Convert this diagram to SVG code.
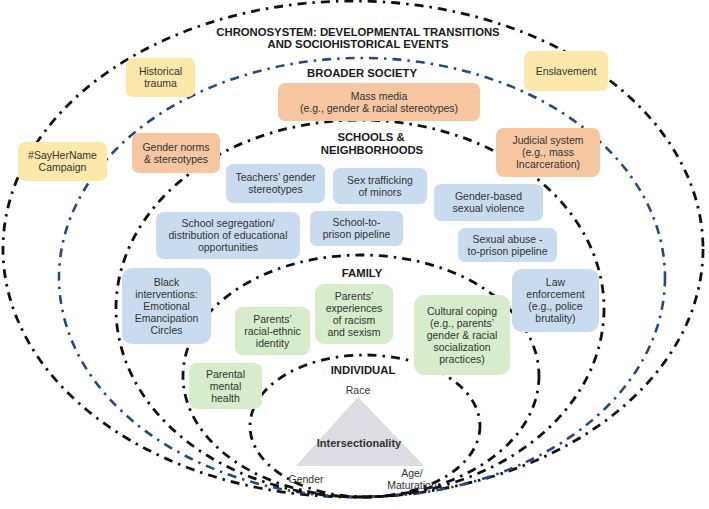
<svg xmlns="http://www.w3.org/2000/svg" width="709" height="509" viewBox="0 0 709 509">
<style>
.ring{fill:none;stroke:#111;stroke-width:2.8;stroke-dasharray:9 6 2.5 6}
.ringb{fill:none;stroke:#234a86;stroke-width:2.6;stroke-dasharray:9 6 2.5 6}
.y rect{fill:#fce8a8}
.o rect{fill:#f6c6a1}
.b rect{fill:#c9dcef}
.g rect{fill:#d6ecca}
text{font-family:"Liberation Sans",Arial,sans-serif;fill:#333;text-anchor:middle;font-size:10.5px}
.h{font-weight:bold;font-size:11.3px;fill:#1a1a1a}
.bold{font-weight:bold;font-size:11px;fill:#333}
</style>
<rect width="709" height="509" fill="#fff"/>
<g id="connectors">
<ellipse id="chronosystem-ring" class="ring" cx="353" cy="249" rx="350" ry="248"/>
<ellipse id="society-ring" class="ringb" cx="362" cy="277.5" rx="303" ry="219.5"/>
<ellipse id="schools-ring" class="ring" cx="360" cy="308.5" rx="244" ry="188.5"/>
<ellipse id="family-ring" class="ring" cx="361" cy="376" rx="178" ry="121"/>
<ellipse id="individual-ring" class="ring" cx="365" cy="426" rx="115" ry="71"/>
</g>
<g id="headings">
<text class="h" x="358" y="36">CHRONOSYSTEM: DEVELOPMENTAL TRANSITIONS</text>
<text class="h" x="358" y="48">AND SOCIOHISTORICAL EVENTS</text>
<text class="h" x="362" y="77">BROADER SOCIETY</text>
<text class="h" x="371" y="141">SCHOOLS &amp;</text>
<text class="h" x="372" y="154">NEIGHBORHOODS</text>
<text class="h" x="362" y="277">FAMILY</text>
<text class="h" x="363" y="374">INDIVIDUAL</text>
</g>
<g id="historical-trauma" class="y"><rect x="126" y="58" width="69" height="39" rx="7"/><text x="160.5" y="75.2">Historical</text><text x="160.5" y="87.2">trauma</text></g>
<g id="sayhername" class="y"><rect x="18" y="142" width="89" height="39" rx="7"/><text x="62.5" y="159.2">#SayHerName</text><text x="62.5" y="171.2">Campaign</text></g>
<g id="enslavement" class="y"><rect x="524" y="51" width="84" height="40" rx="7"/><text x="566" y="74.7">Enslavement</text></g>
<g id="mass-media" class="o"><rect x="278" y="83" width="202" height="38" rx="7"/><text x="379" y="99.7">Mass media</text><text x="379" y="111.7">(e.g., gender &amp; racial stereotypes)</text></g>
<g id="gender-norms" class="o"><rect x="132" y="133" width="88" height="40" rx="7"/><text x="176" y="150.7">Gender norms</text><text x="176" y="162.7">&amp; stereotypes</text></g>
<g id="judicial-system" class="o"><rect x="496" y="128" width="104" height="49" rx="8"/><text x="548" y="144.2">Judicial system</text><text x="548" y="156.2">(e.g., mass</text><text x="548" y="168.2">Incarceration)</text></g>
<g id="teachers" class="b"><rect x="226" y="164" width="99" height="39" rx="7"/><text x="275.5" y="181.2">Teachers’ gender</text><text x="275.5" y="193.2">stereotypes</text></g>
<g id="sex-trafficking" class="b"><rect x="333" y="168" width="94" height="36" rx="7"/><text x="380" y="183.7">Sex trafficking</text><text x="380" y="195.7">of minors</text></g>
<g id="gender-based-violence" class="b"><rect x="434" y="184" width="109" height="37" rx="7"/><text x="488.5" y="200.2">Gender-based</text><text x="488.5" y="212.2">sexual violence</text></g>
<g id="school-segregation" class="b"><rect x="156" y="212" width="144" height="47" rx="8"/><text x="228" y="227.2">School segregation/</text><text x="228" y="239.2">distribution of educational</text><text x="228" y="251.2">opportunities</text></g>
<g id="school-to-prison" class="b"><rect x="310" y="211" width="93" height="35" rx="7"/><text x="356.5" y="226.2">School-to-</text><text x="356.5" y="238.2">prison pipeline</text></g>
<g id="sexual-abuse" class="b"><rect x="458" y="228" width="99" height="34" rx="7"/><text x="507.5" y="242.7">Sexual abuse -</text><text x="507.5" y="254.7">to-prison pipeline</text></g>
<g id="black-interventions" class="b"><rect x="122" y="268" width="89" height="76" rx="10"/><text x="166.5" y="285.7">Black</text><text x="166.5" y="297.7">interventions:</text><text x="166.5" y="309.7">Emotional</text><text x="166.5" y="321.7">Emancipation</text><text x="166.5" y="333.7">Circles</text></g>
<g id="law-enforcement" class="b"><rect x="512" y="269" width="87" height="63" rx="10"/><text x="555.5" y="286.2">Law</text><text x="555.5" y="298.2">enforcement</text><text x="555.5" y="310.2">(e.g., police</text><text x="555.5" y="322.2">brutality)</text></g>
<g id="parents-identity" class="g"><rect x="235" y="307" width="75" height="48" rx="8"/><text x="272.5" y="322.7">Parents’</text><text x="272.5" y="334.7">racial-ethnic</text><text x="272.5" y="346.7">identity</text></g>
<g id="parents-experiences" class="g"><rect x="315" y="284" width="78" height="60" rx="9"/><text x="354" y="299.7">Parents’</text><text x="354" y="311.7">experiences</text><text x="354" y="323.7">of racism</text><text x="354" y="335.7">and sexism</text></g>
<g id="cultural-coping" class="g"><rect x="414" y="295" width="96" height="80" rx="10"/><text x="462" y="314.7">Cultural coping</text><text x="462" y="326.7">(e.g., parents’</text><text x="462" y="338.7">gender &amp; racial</text><text x="462" y="350.7">socialization</text><text x="462" y="362.7">practices)</text></g>
<g id="parental-mental-health" class="g"><rect x="189" y="363" width="73" height="46" rx="8"/><text x="225.5" y="377.7">Parental</text><text x="225.5" y="389.7">mental</text><text x="225.5" y="401.7">health</text></g>
<g id="intersectionality">
<polygon points="358,397 296,466 424,466" fill="#dcdce2"/>
<text x="358" y="394">Race</text>
<text class="bold" x="359" y="447">Intersectionality</text>
<text x="306" y="483">Gender</text>
<text x="412" y="477">Age/</text>
<text x="412" y="489">Maturation</text>
</g>
</svg>
